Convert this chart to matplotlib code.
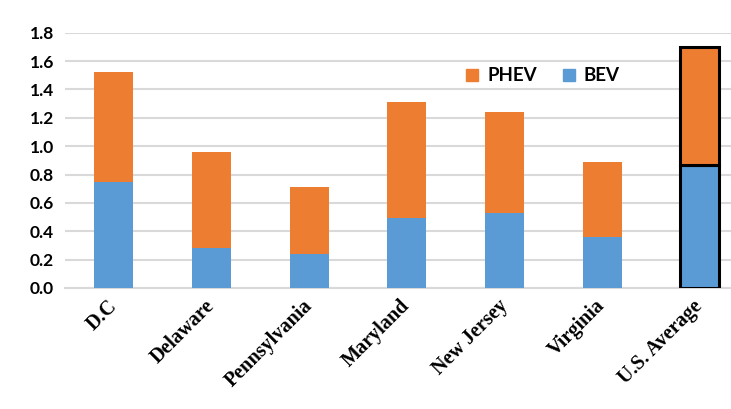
import matplotlib.pyplot as plt
from matplotlib.lines import Line2D

# ============================
# DATOS
# ============================
states = ["D.C", "Delaware", "Pennsylvania", "Maryland", "New Jersey", "Virginia", "U.S. Average"]
bev  = [0.75, 0.28, 0.24, 0.49, 0.53, 0.36, 0.87]
phev = [0.77, 0.68, 0.47, 0.82, 0.71, 0.53, 0.83]

BLUE = "#5B9BD5"
ORANGE = "#ED7D31"

# ============================
# FIGURA
# ============================
fig = plt.figure(figsize=(7.31, 4.09), dpi=100)
ax = fig.add_axes([0.089, 0.296, 0.911, 0.624])

x = list(range(len(states)))
w = 0.4
edges = ["none"] * (len(states) - 1) + ["black"]
lws = [0] * (len(states) - 1) + [2.2]

ax.bar(x, bev, width=w, color=BLUE, edgecolor=edges, linewidth=lws, zorder=3)
ax.bar(x, phev, width=w, bottom=bev, color=ORANGE, edgecolor=edges, linewidth=lws, zorder=3)

ax.set_ylim(0, 1.8)
ax.set_yticks([i * 0.2 for i in range(10)])
ax.set_yticklabels([f"{i * 0.2:.1f}" for i in range(10)], fontfamily="Lato",
                   fontweight="bold", fontsize=12.5)
ax.set_xlim(-0.5, 6.32)
ax.set_xticks(x)
ax.set_xticklabels(states, rotation=45, ha="right", va="center", rotation_mode="anchor",
                   fontfamily="Liberation Serif", fontweight="bold", fontsize=14.5)
ax.tick_params(axis="both", length=0)
ax.tick_params(axis="x", pad=11)
ax.tick_params(axis="y", pad=8)

ax.grid(axis="y", color="#d9d9d9", linewidth=1.5, zorder=0)
for s in ["top", "right", "left"]:
    ax.spines[s].set_visible(False)
ax.spines["bottom"].set_color("#d9d9d9")
ax.spines["bottom"].set_linewidth(1.5)

handles = [Line2D([], [], marker="s", linestyle="none", markersize=9, color=ORANGE),
           Line2D([], [], marker="s", linestyle="none", markersize=9, color=BLUE)]
ax.legend(handles, ["PHEV", "BEV"], ncol=2, frameon=False, loc="center left",
          bbox_to_anchor=(0.61, 0.815), bbox_transform=fig.transFigure,
          handletextpad=0.3, columnspacing=1.2, handlelength=1.0,
          prop={"family": "Lato", "weight": "bold", "size": 13.5})

fig.savefig("out.png", dpi=100)
